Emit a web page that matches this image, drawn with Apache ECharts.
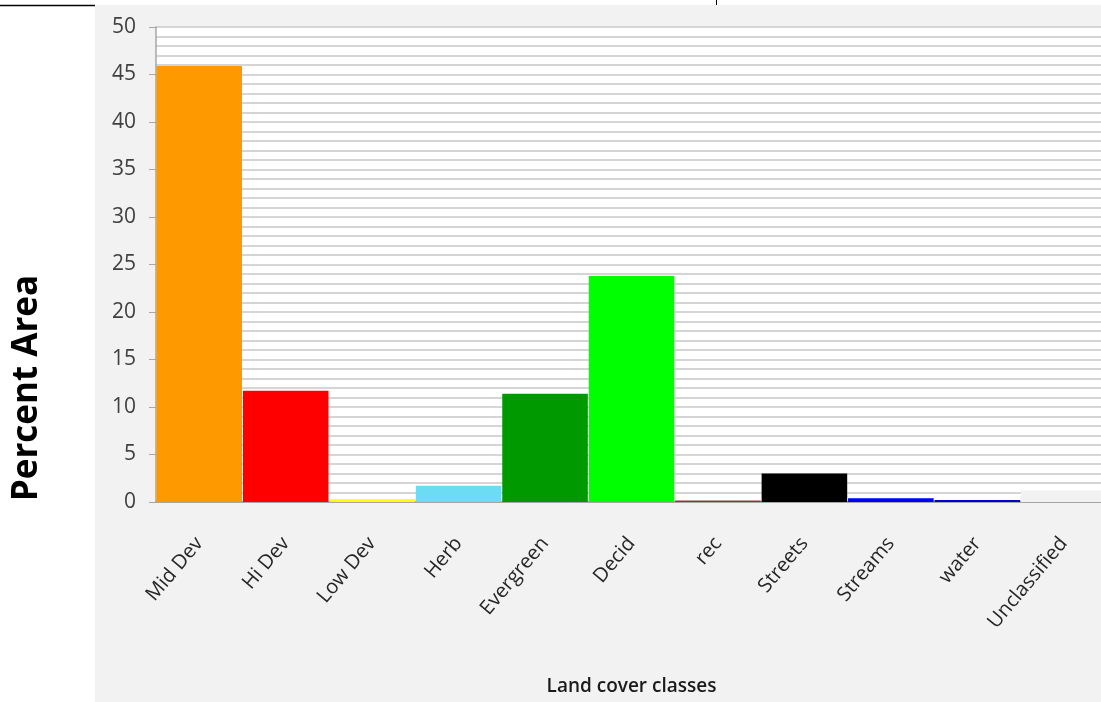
<!DOCTYPE html>
<html>
<head>
<meta charset="utf-8">
<script src="https://cdn.jsdelivr.net/npm/echarts@6/dist/echarts.min.js"></script>
<style>
html,body{margin:0;padding:0;background:#fff;}
#chart{width:1101px;height:702px;}
</style>
</head>
<body>
<div id="chart"></div>
<script>
const categories = ['Mid Dev','Hi Dev','Low Dev','Herb','Evergreen','Decid','rec','Streets','Streams','water','Unclassified'];
const values = [45.9, 11.7, 0.3, 1.7, 11.4, 23.8, 0.15, 3.0, 0.4, 0.2, 1.2];
const barColors = ['#ff9900','#ff0000','#ffff00','#6cdcf5','#009900','#00ff00','#8b3a3a','#000000','#0000ff','#0000cc','#f2f2f2'];
const yTicks = [0,5,10,15,20,25,30,35,40,45,50];
const xTitle = 'Land cover classes';
const yTitle = 'Percent Area';

const chart = echarts.init(document.getElementById('chart'), null, {renderer:'canvas'});
chart.setOption({
  animation:false,
  backgroundColor:'#ffffff',
  graphic:[
    {type:'rect', z:-10, shape:{x:95,y:5,width:1010,height:700}, style:{fill:'#f2f2f2'}},
    {type:'line', shape:{x1:0,y1:5.5,x2:95,y2:5.5}, style:{stroke:'#000',lineWidth:1.5}},
    {type:'line', shape:{x1:716.5,y1:0,x2:716.5,y2:5}, style:{stroke:'#000',lineWidth:1}},
    {type:'text', x:27, y:388, rotation:Math.PI/2,
     style:{text:yTitle, fontFamily:'Open Sans', fontSize:35, fontWeight:'bold', fill:'#000', align:'center', verticalAlign:'middle'}}
  ],
  grid:{left:156, top:27, right:-6, bottom:200, show:true, backgroundColor:'#ffffff', borderWidth:0,
        outerBoundsMode:'none', containLabel:false},
  xAxis:{
    type:'category',
    data:categories,
    name:xTitle,
    nameLocation:'middle',
    nameGap:175,
    nameTextStyle:{fontFamily:'Open Sans', fontSize:19, fontWeight:600, color:'#1a1a1a'},
    axisLine:{lineStyle:{color:'#a6a6a6', width:2}},
    axisTick:{show:false},
    axisLabel:{rotate:50, fontFamily:'Open Sans', fontSize:20, color:'#262626', margin:38, interval:0}
  },
  yAxis:{
    type:'value',
    min:yTicks[0], max:yTicks[yTicks.length-1], interval:5,
    axisLine:{show:true, lineStyle:{color:'#a6a6a6', width:1.5}},
    axisTick:{show:true, length:7, lineStyle:{color:'#a6a6a6'}},
    axisLabel:{fontFamily:'Open Sans', fontSize:21, color:'#404040', margin:20},
    splitLine:{show:true, lineStyle:{color:'#c8c8c8', width:1.5}},
    minorTick:{show:false, splitNumber:5},
    minorSplitLine:{show:true, lineStyle:{color:'#c8c8c8', width:1.5}}
  },
  series:[{
    type:'bar',
    data:values.map((v,i)=>({value:v, itemStyle:{color:barColors[i]}})),
    barCategoryGap:'1%'
  }]
});
</script>
</body>
</html>
